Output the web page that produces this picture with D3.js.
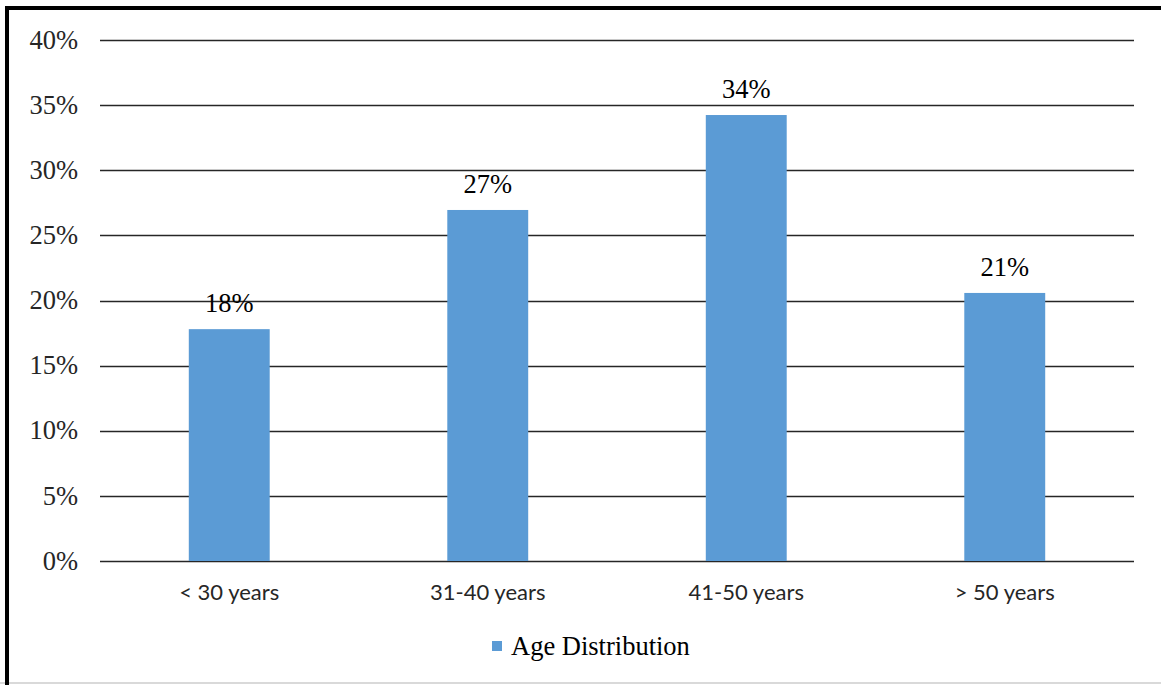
<!doctype HTML>
<html>
<head>
    <style>
        body { margin: 0; background: #ffffff; }
    </style>
    <script src="https://d3js.org/d3.v7.min.js"></script>
</head>
<body>
<div id="chart"></div>
<script>

    // data
    var categories = ["< 30 years", "31-40 years", "41-50 years", "> 50 years"];
    var values = [0.178, 0.2695, 0.3424, 0.2058];
    var valueLabels = ["18%", "27%", "34%", "21%"];
    var yTicks = [0, 0.05, 0.10, 0.15, 0.20, 0.25, 0.30, 0.35, 0.40];
    var seriesName = "Age Distribution";

    var canvasWidth = 1161;
    var canvasHeight = 685;

    var svg = d3.select("#chart").append("svg")
        .attr("width", canvasWidth)
        .attr("height", canvasHeight);

    // frame around the picture
    svg.append("rect")
        .attr("x", 0).attr("y", 0)
        .attr("width", canvasWidth).attr("height", canvasHeight)
        .attr("fill", "#ffffff");
    svg.append("line")
        .attr("x1", 0).attr("x2", canvasWidth)
        .attr("y1", 683).attr("y2", 683)
        .attr("stroke", "#d9d9d9").attr("stroke-width", 2);
    svg.append("line")
        .attr("x1", 5).attr("x2", canvasWidth)
        .attr("y1", 8).attr("y2", 8)
        .attr("stroke", "#000").attr("stroke-width", 4);
    svg.append("line")
        .attr("x1", 7).attr("x2", 7)
        .attr("y1", 6).attr("y2", canvasHeight)
        .attr("stroke", "#000").attr("stroke-width", 4);

    var plotLeft = 100, plotRight = 1134, plotTop = 40, plotBottom = 561;
    var serif = "Liberation Serif, Times New Roman, serif";

    var x = d3.scaleBand()
        .domain(categories)
        .range([plotLeft, plotRight])
        .paddingInner(0.687)
        .paddingOuter(0.3435);

    var y = d3.scaleLinear()
        .domain([0, 0.40])
        .range([plotBottom, plotTop]);

    // gridlines
    svg.append("g")
        .selectAll("line")
        .data(yTicks)
        .join("line")
        .attr("x1", plotLeft)
        .attr("x2", plotRight)
        .attr("y1", function(d){return Math.round(y(d)) + 0.5})
        .attr("y2", function(d){return Math.round(y(d)) + 0.5})
        .attr("stroke", "#262626")
        .attr("stroke-width", 1.3);

    // y tick labels
    svg.append("g")
        .selectAll("text")
        .data(yTicks)
        .join("text")
        .attr("x", 78)
        .attr("y", function(d){return y(d)})
        .attr("dy", "0.33em")
        .attr("text-anchor", "end")
        .attr("font-family", serif)
        .attr("font-size", "26.5px")
        .attr("fill", "#262626")
        .text(d3.format(".0%"));

    // bars
    svg.append("g")
        .selectAll("rect")
        .data(values)
        .join("rect")
        .attr("x", function(d, i){return x(categories[i])})
        .attr("width", x.bandwidth())
        .attr("y", function(d){return y(d)})
        .attr("height", function(d){return plotBottom - y(d)})
        .attr("fill", "#5b9bd5");

    // value labels
    svg.append("g")
        .selectAll("text")
        .data(values)
        .join("text")
        .attr("x", function(d, i){return x(categories[i]) + x.bandwidth() / 2})
        .attr("y", function(d){return y(d) - 17})
        .attr("text-anchor", "middle")
        .attr("font-family", serif)
        .attr("font-size", "26.5px")
        .attr("fill", "#000")
        .text(function(d, i){return valueLabels[i]});

    // category labels
    svg.append("g")
        .selectAll("text")
        .data(categories)
        .join("text")
        .attr("x", function(d){return x(d) + x.bandwidth() / 2})
        .attr("y", 600)
        .attr("text-anchor", "middle")
        .attr("font-family", "Lato, Liberation Sans, sans-serif")
        .attr("font-size", "22px")
        .attr("fill", "#262626")
        .text(function(d){return d});

    // legend
    svg.append("rect")
        .attr("x", 492)
        .attr("y", 641)
        .attr("width", 10)
        .attr("height", 10)
        .attr("fill", "#5b9bd5");

    svg.append("text")
        .attr("x", 511)
        .attr("y", 655)
        .attr("font-family", serif)
        .attr("font-size", "26.5px")
        .attr("fill", "#000")
        .text(seriesName);

</script>
</body>
</html>
